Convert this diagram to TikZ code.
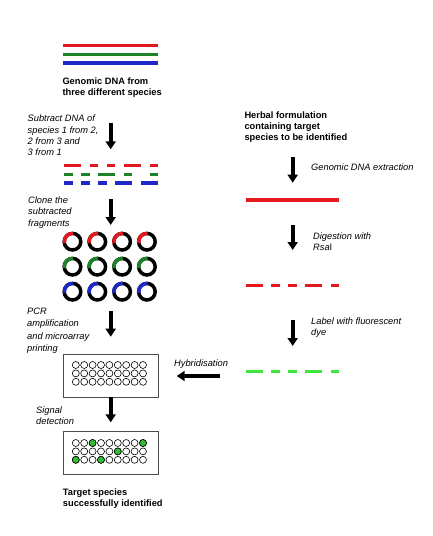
\documentclass[tikz,border=0pt]{standalone}
\usepackage{fontspec}
\setmainfont{Liberation Sans}
\usetikzlibrary{arrows.meta}
\definecolor{dnared}{RGB}{228,24,30}
\definecolor{dnagreen}{RGB}{30,130,40}
\definecolor{dnablue}{RGB}{30,40,200}
\definecolor{probegreen}{RGB}{60,230,60}
\definecolor{spotgreen}{RGB}{50,190,50}

\begin{document}
\begin{tikzpicture}[x=1pt,y=1pt,
    every node/.style={inner sep=0pt,anchor=north west,align=left,font=\fontsize{9.3}{11.1}\selectfont},
    title/.style={font=\fontsize{9.3}{11.1}\selectfont\bfseries},
    note/.style={font=\fontsize{9.3}{11.3}\selectfont\itshape},
    strand/.style={line width=3.5pt},
    ring/.style={line width=3.5pt},
    bigarrow/.style={line width=3.8pt,-{Triangle[length=8pt,width=10pt]}},
    chip/.style={draw=black!70,line width=0.8pt,minimum width=95pt,minimum height=43pt,anchor=center},
    spot/.style={draw=black,line width=0.6pt}]
                \useasboundingbox (0,0) rectangle (433,-536);

                \foreach \c/\y in {dnared/45.7,dnagreen/54.3,dnablue/63}
                    \draw[strand,\c] (63,-\y) -- (158,-\y);
                \foreach \c/\y/\segs in {dnared/165.5/{0/2,3/4,5/6,7/9,10/11},
                                         dnagreen/174.3/{0/1,2/3,4/6,7/8,10/11},
                                         dnablue/183/{0/1,2/3,4/5,6/8,9/11}}
                    \foreach \a/\b in \segs
                        \draw[strand,\c] (64+8.55*\a,-\y) -- (64+8.55*\b,-\y);

                \foreach \r/\c in {1/dnared,2/dnagreen,3/dnablue}
                    \foreach \k in {1,...,4}{
                        \draw[ring] (47.7+24.8*\k,-216.7-25*\r) circle[radius=8.3];
                        \draw[ring,\c] (47.7+24.8*\k,-216.7-25*\r) ++(190:8.3) arc[start angle=190,end angle=85,radius=8.3];
                    }

                \node[chip] (chipA) at (110.5,-375.5) {};
                \node[chip] (chipB) at (110.5,-452.5) {};
                \foreach \i in {1,...,9}
                    \foreach \j in {1,2,3}{
                        \draw[spot,fill=white] (67.4+8.4*\i,-356.6-8.4*\j) circle[radius=3.5];
                        \draw[spot,fill=white] (67.4+8.4*\i,-434.6-8.4*\j) circle[radius=3.5];
                    }
                \foreach \i/\j in {3/1,9/1,6/2,1/3,4/3}
                    \draw[spot,fill=spotgreen] (67.4+8.4*\i,-434.6-8.4*\j) circle[radius=3.5];

                \draw[strand,dnared] (245.7,-200) -- (339.3,-200);
                \foreach \c/\y in {dnared/285.7,probegreen/371.7}
                    \foreach \a/\b in {0/2,3/4,5/6,7/9,10/11}
                        \draw[strand,\c] (245.7+8.51*\a,-\y) -- (245.7+8.51*\b,-\y);

                \foreach \n/\x/\ya/\yb in {sub/110.7/122.7/149.3,clone/110.7/199.3/225,pcr/110.7/311/336.7,
                                           det/110.7/397/422.3,ext/292.7/157.3/182.7,dig/292.7/225/250,lab/292.7/320/346}{
                    \coordinate (\n A) at (\x,-\ya);
                    \coordinate (\n B) at (\x,-\yb);
                    \draw[bigarrow] (\n A) -- (\n B);
                }
                \coordinate (hybA) at (220,-376);
                \coordinate (hybB) at (176.7,-376);
                \draw[bigarrow] (hybA) -- (hybB);

                \node[title] (gdna) at (62.3,-77.2) {Genomic DNA from\\three different species};
                \node[note] (subtract) at (27.5,-114.8) {Subtract DNA of\\species 1 from 2,\\2 from 3 and\\3 from 1};
                \node[note] (cloning) at (28,-196.5) {Clone the\\subtracted\\fragments};
                \node[note,font=\fontsize{9.3}{12.6}\selectfont\itshape] (printing) at (27,-307.5) {PCR\\amplification\\and microarray\\printing};
                \node[note] (detect) at (36,-406.5) {Signal\\detection};
                \node[title] (target) at (62.7,-488.2) {Target species\\successfully identified};
                \node[title] (herbal) at (244.3,-111.5) {Herbal formulation\\containing target\\species to be identified};
                \node[note] (extract) at (311,-163.2) {Genomic DNA extraction};
                \node[note] (digest) at (313,-232.2) {Digestion with\\Rsa\textup{I}};
                \node[note] (label) at (311,-317.2) {Label with fluorescent\\dye};
                \node[note] (hybrid) at (174,-359.8) {Hybridisation};
            \end{tikzpicture}
\end{document}
